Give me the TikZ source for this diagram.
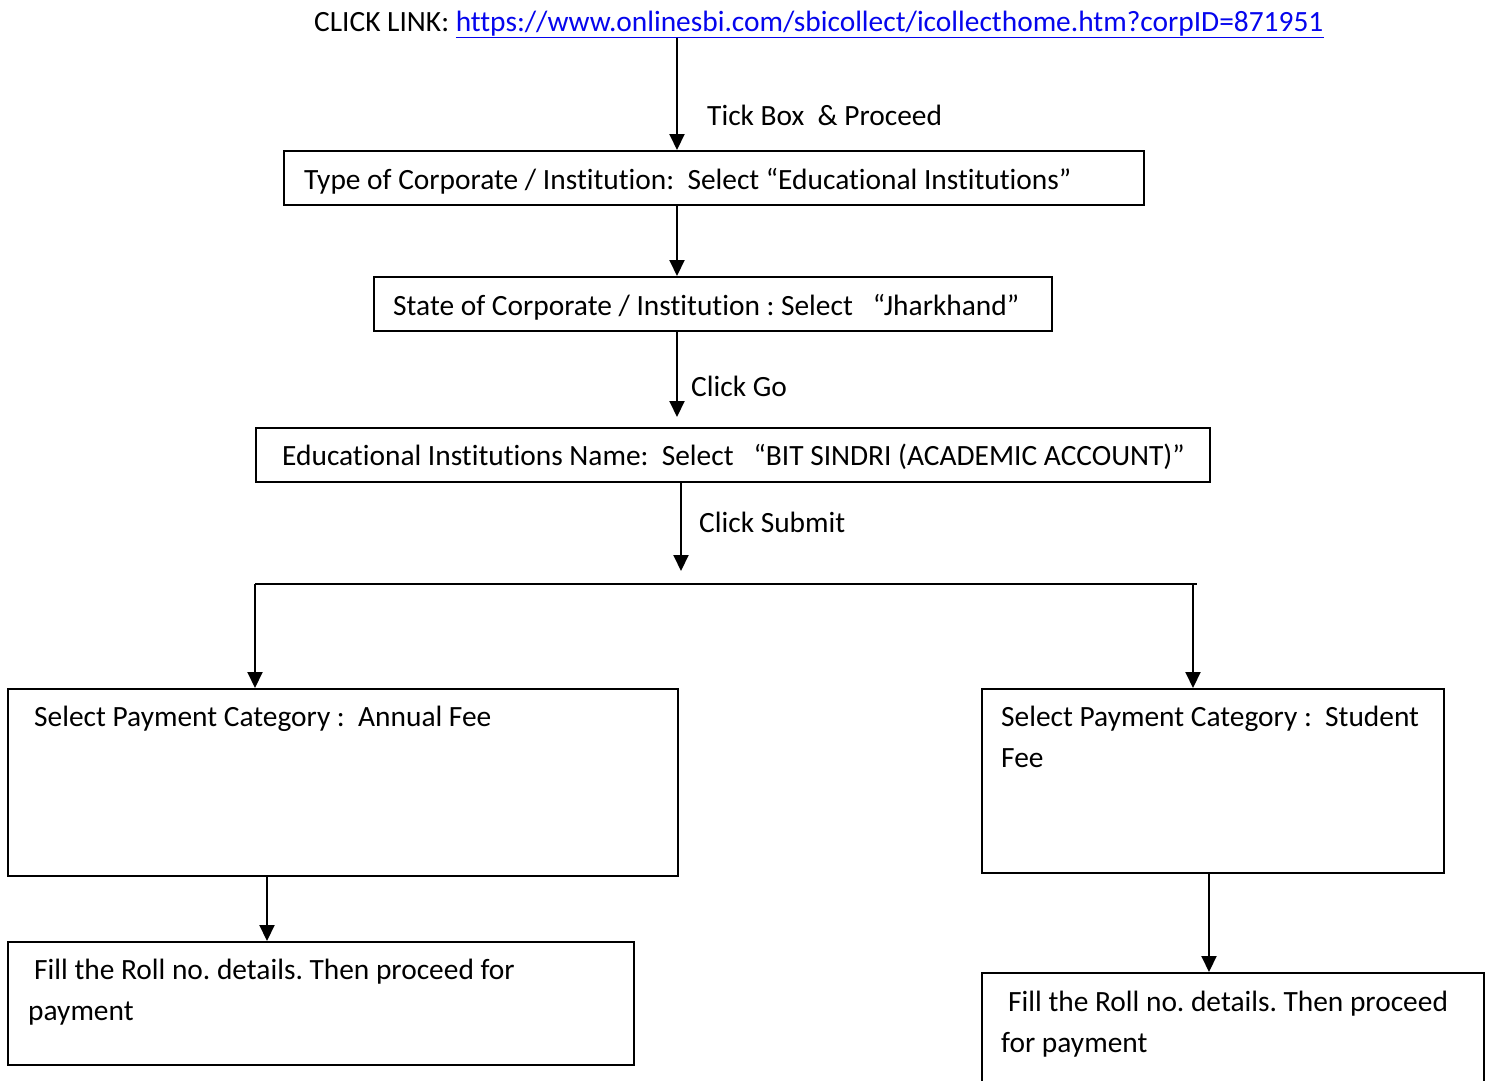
\documentclass[tikz,border=0pt]{standalone}
\usepackage{fontspec}
\setmainfont[Ligatures=NoCommon]{Carlito}
\usetikzlibrary{positioning,arrows.meta}
\definecolor{linkblue}{rgb}{0.02,0.02,0.93}
\frenchspacing
\tikzset{
  arr/.style = {-{Triangle[width=15pt,length=16pt]},line width=2pt},
  lne/.style = {line width=2pt},
  box/.style = {draw,line width=1.8pt,anchor=north west,inner sep=0pt},
  txt/.style = {anchor=base west,inner sep=0pt,font=\fontsize{29.4}{41}\selectfont},
  lab/.style = {txt}
}

\begin{document}
\begin{tikzpicture}[x=1pt,y=-1pt]
\useasboundingbox (0,0) rectangle (1489,1080);

% title line with the link
\node[txt] (title) at (314,31) {CLICK LINK: \textcolor{linkblue}{\underline{https://www.onlinesbi.com/sbicollect/icollecthome.htm?corpID=871951}}};

% boxes
\node[box,minimum width=860pt,minimum height=54pt] (type) at (283,150) {};
\node[box,minimum width=678pt,minimum height=54pt] (state) at (373,276) {};
\node[box,minimum width=954pt,minimum height=54pt] (inst) at (255,427) {};
\node[box,minimum width=670pt,minimum height=187pt] (annual) at (7,688) {};
\node[box,minimum width=462pt,minimum height=184pt] (student) at (981,688) {};
\node[box,minimum width=626pt,minimum height=123pt] (rolla) at (7,941) {};
\node[box,minimum width=502pt,minimum height=140pt] (rollb) at (981,972) {};

% texts in the boxes
\node[txt] (typet) at (304,189) {Type of Corporate / Institution:\ \ Select “Educational Institutions”};
\node[txt] (statet) at (393,315) {State of Corporate / Institution : Select\ \ \ “Jharkhand”};
\node[txt] (instt) at (282,465) {Educational Institutions Name:\ \ Select\ \ \ “BIT SINDRI (ACADEMIC ACCOUNT)”};
\node[txt] (annualt) at (34,726) {Select Payment Category :\ \ Annual Fee};
\node[txt] (studentt) at (1001,726) {Select Payment Category :\ \ Student};
\node[txt] (studentu) at (1001,767) {Fee};
\node[txt] (rollat) at (34,979) {Fill the Roll no. details. Then proceed for};
\node[txt] (rollau) at (28,1020) {payment};
\node[txt] (rollbt) at (1008,1011) {Fill the Roll no. details. Then proceed};
\node[txt] (rollbu) at (1001,1052) {for payment};

% labels beside the arrows
\node[lab] (tick) at (707,125) {Tick Box\ \ \& Proceed};
\node[lab] (go) at (691,396) {Click Go};
\node[lab] (sub) at (699,532) {Click Submit};

% free ends and joints
\coordinate (spine) at (677,0);
\coordinate (goend) at (677,417);
\coordinate (subend) at (681,571);
\coordinate (split) at (255,584);
\coordinate (splitr) at (1197,584);
\coordinate (dropr) at (1193,584);
\coordinate (dropa) at (267,0);
\coordinate (dropb) at (1209,0);

% connectors
\draw[arr] (title.south -| spine) -- (spine |- type.north);
\draw[arr] (type.south -| spine) -- (spine |- state.north);
\draw[arr] (state.south -| spine) -- (goend);
\draw[arr] (inst.south -| subend) -- (subend);
\draw[lne] (split) -- (splitr);
\draw[arr] (split) -- (split |- annual.north);
\draw[arr] (dropr) -- (dropr |- student.north);
\draw[arr] (annual.south -| dropa) -- (dropa |- rolla.north);
\draw[arr] (student.south -| dropb) -- (dropb |- rollb.north);
\end{tikzpicture}
\end{document}
